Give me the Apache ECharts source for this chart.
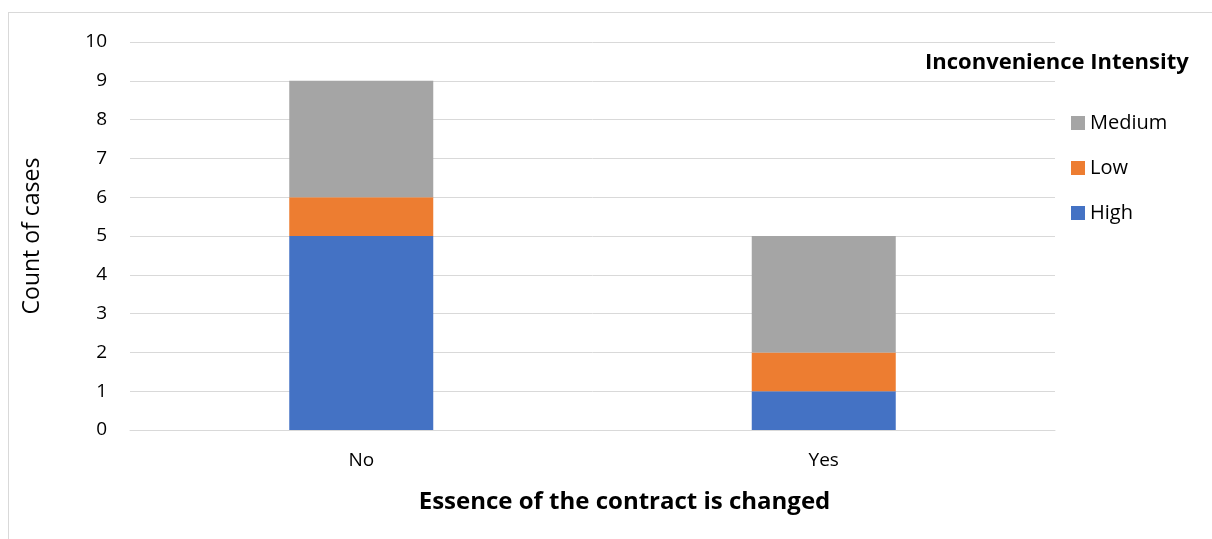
<!DOCTYPE html>
<html>
<head>
<meta charset="utf-8">
<script src="https://cdn.jsdelivr.net/npm/echarts@6/dist/echarts.min.js"></script>
<style>
  html, body { margin: 0; padding: 0; background: #fff; }
  #frame {
    position: absolute; left: 8px; top: 12px; width: 1300px; height: 600px;
    border-left: 1px solid #d9d9d9; border-top: 1px solid #d9d9d9;
  }
  #chart { position: absolute; left: 0; top: 0; width: 1212px; height: 539px; }
</style>
</head>
<body>
<div id="frame"></div>
<div id="chart"></div>
<script>
const categories = ['No', 'Yes']
const highValues = [5, 1]
const lowValues = [1, 1]
const mediumValues = [3, 3]
const legendOrder = ['Medium', 'Low', 'High']

const font = '"Open Sans", "Noto Sans", sans-serif'
const chart = echarts.init(document.getElementById('chart'))

const barSeries = (name, data, color) => ({
  name,
  type: 'bar',
  stack: 'total',
  data,
  barWidth: 144,
  itemStyle: { color },
  emphasis: { disabled: true }
})

chart.setOption({
  animation: false,
  textStyle: { fontFamily: font },
  graphic: [{
    type: 'text',
    left: 925,
    top: 52,
    style: {
      text: 'Inconvenience Intensity',
      font: 'bold 22px ' + font,
      fill: '#000'
    }
  }],
  legend: {
    data: legendOrder,
    orient: 'vertical',
    left: 1066,
    top: 108,
    itemWidth: 14,
    itemHeight: 14,
    itemGap: 25,
    icon: 'rect',
    textStyle: { fontSize: 20, color: '#000', fontFamily: font }
  },
  grid: { left: 130, right: 157, top: 42, bottom: 109 },
  xAxis: {
    type: 'category',
    data: categories,
    axisTick: { show: false },
    axisLine: { lineStyle: { color: '#d9d9d9' } },
    axisLabel: { fontSize: 19, color: '#000', margin: 21 },
    name: 'Essence of the contract is changed',
    nameLocation: 'middle',
    nameGap: 60,
    nameTextStyle: { fontSize: 24, fontWeight: 'bold', color: '#000', padding: [0, 0, 0, 64] }
  },
  yAxis: {
    type: 'value',
    min: 0,
    max: 10,
    interval: 1,
    axisLine: { show: false },
    axisTick: { show: false },
    splitLine: { lineStyle: { color: '#d9d9d9' } },
    axisLabel: { fontSize: 19, color: '#000', margin: 23 },
    name: 'Count of cases',
    nameLocation: 'middle',
    nameGap: 86,
    nameTextStyle: { fontSize: 23, color: '#000' }
  },
  series: [
    barSeries('High', highValues, '#4472C4'),
    barSeries('Low', lowValues, '#ED7D31'),
    barSeries('Medium', mediumValues, '#A5A5A5')
  ]
})
</script>
</body>
</html>
